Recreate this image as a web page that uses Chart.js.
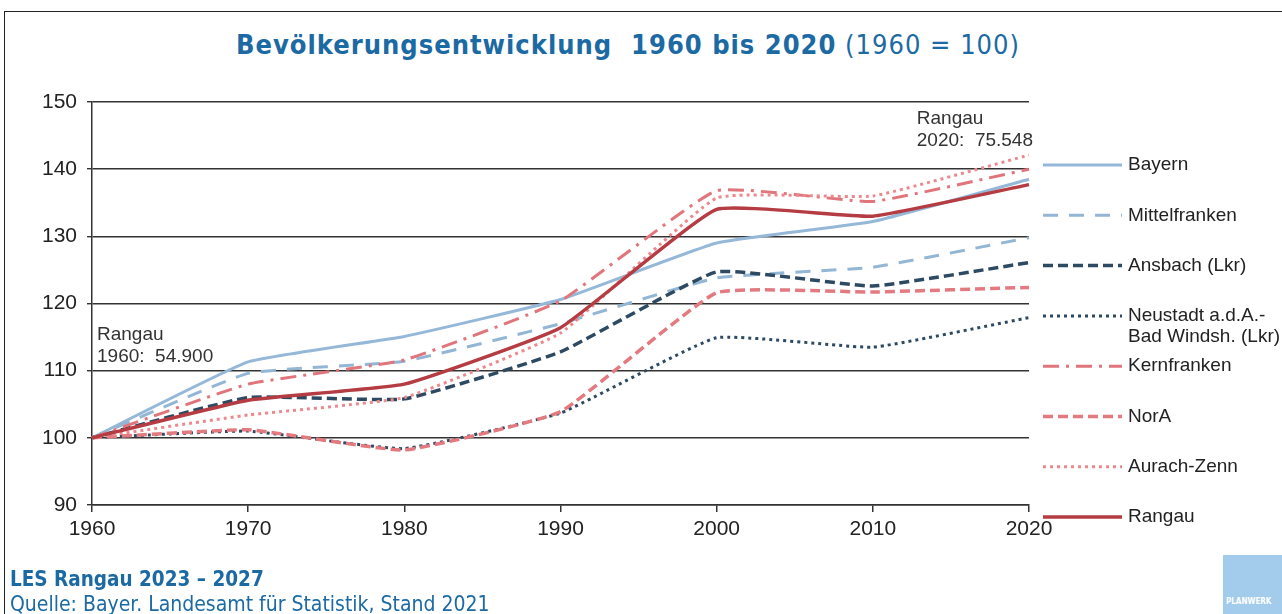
<!DOCTYPE html>
<html>
<head>
<meta charset="utf-8">
<script src="https://cdn.jsdelivr.net/npm/chart.js@4/dist/chart.umd.min.js"></script>
<style>
  body { margin: 0; background: #fff; }
  #wrap { position: relative; width: 1282px; height: 614px; overflow: hidden; }
  #rahmen { position: absolute; left: 4px; top: 11px; right: -5px; bottom: -5px; border-top: 1.5px solid #222; border-left: 1.5px solid #222; }
  #titel { position: absolute; left: 0; width: 1256px; top: 29px; text-align: center; color: #1c6aa3; letter-spacing: 1px;
           font-family: "DejaVu Sans Condensed", "DejaVu Sans", sans-serif; font-size: 27px; white-space: pre; }
  #titel b { font-weight: bold; }
  #fuss1 { position: absolute; left: 10px; top: 567px; color: #1c6aa3; font-weight: bold;
           font-family: "DejaVu Sans Condensed", "DejaVu Sans", sans-serif; font-size: 20.5px; }
  #fuss2 { position: absolute; left: 10px; top: 592px; color: #1c6aa3;
           font-family: "DejaVu Sans Condensed", "DejaVu Sans", sans-serif; font-size: 21px; }
  #logo { position: absolute; left: 1223px; top: 555px; width: 70px; height: 70px; background: #a3cbec;
          color: #fff; font-family: "DejaVu Sans Condensed", sans-serif; font-size: 8px; font-weight: bold; }
  #logo span { position: absolute; left: 3px; top: 42px; }
  canvas { position: absolute; left: 0; top: 0; }
</style>
</head>
<body>
<div id="wrap">
  <div id="rahmen"></div>
  <div id="titel"><b>Bevölkerungsentwicklung  1960 bis 2020</b> (1960 = 100)</div>
  <canvas id="grafico" width="1282" height="614"></canvas>
  <div id="fuss1">LES Rangau 2023 – 2027</div>
  <div id="fuss2">Quelle: Bayer. Landesamt für Statistik, Stand 2021</div>
  <div id="logo"><span>PLANWERK</span></div>
</div>
<script>
// Bevölkerungsentwicklung, Index 1960 = 100
const jahre = ['1960', '1970', '1980', '1990', '2000', '2010', '2020'];

const bayern        = [100, 111.3, 115.1, 120.6, 129.0, 132.2, 138.5];
const mittelfranken = [100, 109.6, 111.4, 117.0, 123.8, 125.4, 129.8];
const ansbach       = [100, 106.0, 105.8, 112.8, 124.7, 122.6, 126.1];
const neustadt      = [100, 101.0, 98.4, 103.7, 114.9, 113.5, 117.9];
const kernfranken   = [100, 108.0, 111.6, 120.4, 136.8, 135.2, 140.0];
const nora          = [100, 101.2, 98.2, 103.9, 121.6, 121.7, 122.4];
const aurachZenn    = [100, 103.4, 106.0, 115.6, 135.7, 136.0, 142.1];
const rangau        = [100, 105.6, 108.0, 116.4, 134.0, 133.0, 137.7];

const y_ticks = [90, 100, 110, 120, 130, 140, 150];

const schrift = '"Liberation Sans", Arial, sans-serif';

function serie(label, data, farbe, breite, dash) {
    return {
        label: label,
        data: data,
        borderColor: farbe,
        backgroundColor: farbe,
        borderWidth: breite,
        borderDash: dash,
        pointRadius: 0,
        tension: 0.12,
        fill: false
    };
}

const datasets = [
    serie('Rangau', rangau, '#b43c42', 3.5, []),
    serie('Aurach-Zenn', aurachZenn, '#ea8a8e', 3, [3, 4]),
    serie('NorA', nora, '#e27a80', 3.5, [10, 5]),
    serie('Kernfranken', kernfranken, '#e0757b', 3, [16, 7, 3, 7]),
    serie('Neustadt a.d.A.-\nBad Windsh. (Lkr)', neustadt, '#2d4a62', 3, [3, 4]),
    serie('Ansbach (Lkr)', ansbach, '#2d4a62', 3.5, [10, 5]),
    serie('Mittelfranken', mittelfranken, '#94b6d5', 3, [15, 11]),
    serie('Bayern', bayern, '#95b8d9', 3, [])
];

// Legende rechts, mit Strichmustern
const legende = {
    id: 'legende',
    afterDraw(chart) {
        const ctx = chart.ctx;
        const area = chart.chartArea;
        const x0 = area.right + 14;
        const reihen = chart.data.datasets.slice().reverse();
        ctx.save();
        reihen.forEach(function (ds, i) {
            const y = area.top + 63 + i * 50.3;
            ctx.beginPath();
            ctx.strokeStyle = ds.borderColor;
            ctx.lineWidth = ds.borderWidth;
            ctx.setLineDash(ds.borderDash);
            ctx.moveTo(x0, y);
            ctx.lineTo(x0 + 79, y);
            ctx.stroke();
            ctx.setLineDash([]);
            ctx.fillStyle = '#222';
            ctx.font = '19px ' + schrift;
            ctx.textBaseline = 'middle';
            ctx.textAlign = 'left';
            ds.label.split('\n').forEach(function (t, k) {
                ctx.fillText(t, x0 + 85, y + k * 21);
            });
        });
        ctx.restore();
    }
};

// Beschriftung Rangau 1960 / 2020
const notizen = {
    id: 'notizen',
    afterDraw(chart) {
        const ctx = chart.ctx;
        const xs = chart.scales.x;
        const ys = chart.scales.y;
        ctx.save();
        ctx.fillStyle = '#333';
        ctx.font = '19px ' + schrift;
        ctx.textBaseline = 'middle';
        ctx.textAlign = 'left';
        let x = xs.getPixelForValue(0) + 5;
        let y = ys.getPixelForValue(115.4);
        ctx.fillText('Rangau', x, y);
        ctx.fillText('1960:  54.900', x, y + 22);
        const zeile = '2020:  75.548';
        x = xs.getPixelForValue(6) + 4 - ctx.measureText(zeile).width;
        y = ys.getPixelForValue(147.5);
        ctx.fillText('Rangau', x, y);
        ctx.fillText(zeile, x, y + 22);
        ctx.restore();
    }
};

const config = {
    type: 'line',
    data: { labels: jahre, datasets: datasets },
    options: {
        responsive: false,
        animation: false,
        layout: { padding: { top: 102, right: 253, bottom: 69, left: 0 } },
        plugins: {
            legend: { display: false },
            title: { display: false },
            tooltip: { enabled: false }
        },
        scales: {
            x: {
                type: 'category',
                offset: false,
                grid: { drawOnChartArea: false, color: '#333', lineWidth: 1.5, tickLength: 7 },
                border: { color: '#333', width: 1.5 },
                ticks: { color: '#222', font: { family: schrift, size: 21 }, padding: 5, maxRotation: 0 },
                afterFit(s) { s.height = 40; }
            },
            y: {
                min: 90,
                max: 150,
                afterBuildTicks(s) { s.ticks = y_ticks.map(v => ({ value: v })); },
                grid: { color: '#333', lineWidth: 1.4, tickLength: 5 },
                border: { color: '#333', width: 1.5 },
                ticks: { color: '#222', font: { family: schrift, size: 21 }, padding: 10 },
                afterFit(s) { s.width = 92; }
            }
        }
    },
    plugins: [legende, notizen]
};

const grafico = new Chart(document.getElementById('grafico'), config);
</script>
</body>
</html>
